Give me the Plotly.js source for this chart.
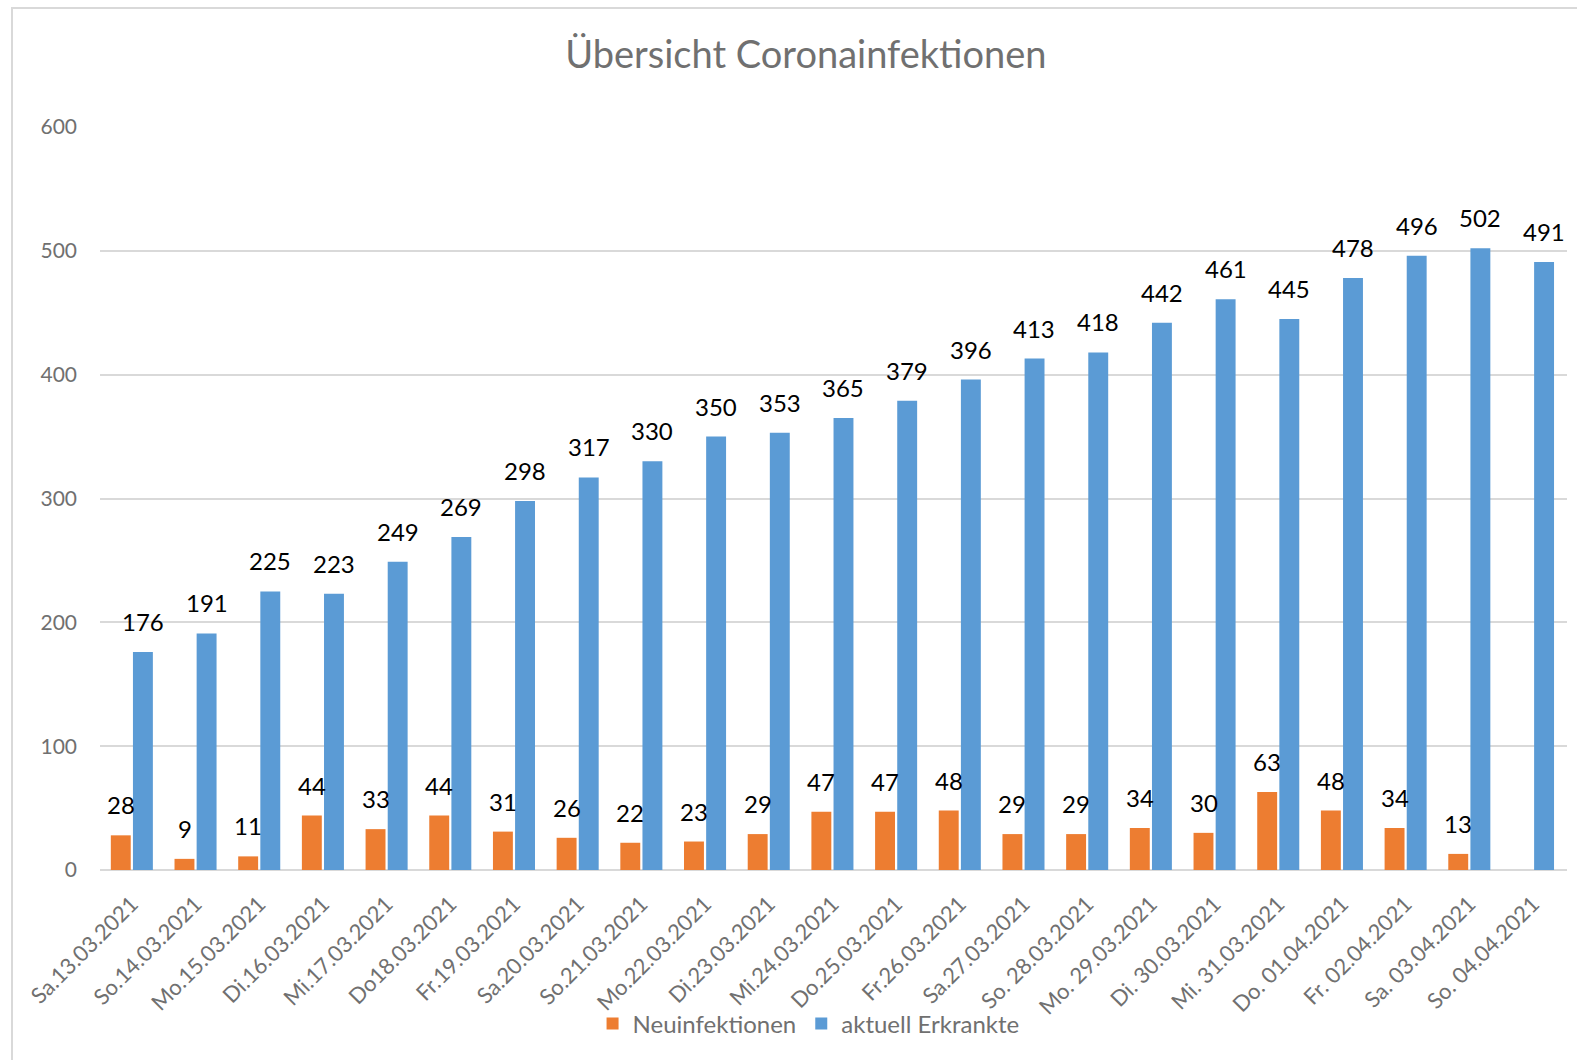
<!DOCTYPE html>
<html>
<head>
<meta charset="utf-8">
<script src="https://cdn.plot.ly/plotly-3.0.1.min.js"></script>
<style>
  html, body { margin: 0; padding: 0; background: #ffffff; }
  #frame { position: absolute; left: 11px; top: 7px; width: 1620px; height: 1100px;
           border-left: 2px solid #d9d9d9; border-top: 2px solid #d9d9d9; }
  #chart { position: absolute; left: 0; top: 0; width: 1577px; height: 1060px; }
</style>
</head>
<body>
<div id="frame"></div>
<div id="chart"></div>
<script>
const categories = ["Sa.13.03.2021","So.14.03.2021","Mo.15.03.2021","Di.16.03.2021","Mi.17.03.2021",
  "Do18.03.2021","Fr.19.03.2021","Sa.20.03.2021","So.21.03.2021","Mo.22.03.2021","Di.23.03.2021",
  "Mi.24.03.2021","Do.25.03.2021","Fr.26.03.2021","Sa.27.03.2021","So. 28.03.2021","Mo. 29.03.2021",
  "Di. 30.03.2021","Mi. 31.03.2021","Do. 01.04.2021","Fr. 02.04.2021","Sa. 03.04.2021","So. 04.04.2021"];
const neuinfektionen = [28, 9, 11, 44, 33, 44, 31, 26, 22, 23, 29, 47, 47, 48, 29, 29, 34, 30, 63, 48, 34, 13, null];
const aktuellErkrankte = [176, 191, 225, 223, 249, 269, 298, 317, 330, 350, 353, 365, 379, 396, 413, 418, 442, 461, 445, 478, 496, 502, 491];
const yTicks = [0, 100, 200, 300, 400, 500, 600];

const FONT = "Lato, 'Open Sans', sans-serif";
const GRAY = "#707070";

const traces = [
  { type: "bar", name: "Neuinfektionen", x: categories, y: neuinfektionen,
    marker: { color: "#ED7D31" }, hoverinfo: "x+y" },
  { type: "bar", name: "aktuell Erkrankte", x: categories, y: aktuellErkrankte,
    marker: { color: "#5B9BD5" }, hoverinfo: "x+y" }
];

function labels(values, shift) {
  const out = [];
  values.forEach((v, i) => {
    if (v === null) return;
    out.push({ x: categories[i], y: v, xref: "x", yref: "y", text: String(v),
      showarrow: false, xanchor: "center", yanchor: "bottom", xshift: shift, yshift: 14,
      font: { family: FONT, size: 24, color: "#000000" } });
  });
  return out;
}

const layout = {
  width: 1577, height: 1060,
  paper_bgcolor: "rgba(0,0,0,0)", plot_bgcolor: "rgba(0,0,0,0)",
  margin: { l: 100, r: 10, t: 127, b: 190 },
  font: { family: FONT, color: GRAY },
  title: { text: "Übersicht Coronainfektionen", xref: "container", x: 0.511, xanchor: "center",
           yref: "container", y: 0.948, yanchor: "middle",
           font: { family: FONT, size: 38, color: GRAY } },
  barmode: "group", bargap: 0.305, bargroupgap: 0.1,
  showlegend: true,
  legend: { orientation: "h", x: 0.483, xanchor: "center", y: -0.207, yanchor: "middle",
            font: { family: FONT, size: 24, color: GRAY }, itemwidth: 30, traceorder: "normal" },
  xaxis: { type: "category", tickangle: -45, tickfont: { family: FONT, size: 22, color: GRAY },
           showgrid: false, showline: false, ticks: "", zeroline: false, ticklabelstandoff: 16 },
  yaxis: { range: [0, 600], tickvals: yTicks, ticktext: yTicks.map(String),
           tickfont: { family: FONT, size: 21, color: GRAY },
           gridcolor: "#d9d9d9", gridwidth: 2, zeroline: true, zerolinecolor: "#d9d9d9", zerolinewidth: 2,
           showline: false, ticks: "", ticklabelstandoff: 22 },
  annotations: labels(neuinfektionen, -11).concat(labels(aktuellErkrankte, 11))
};

Plotly.newPlot("chart", traces, layout, { displayModeBar: false, staticPlot: true });
</script>
</body>
</html>
